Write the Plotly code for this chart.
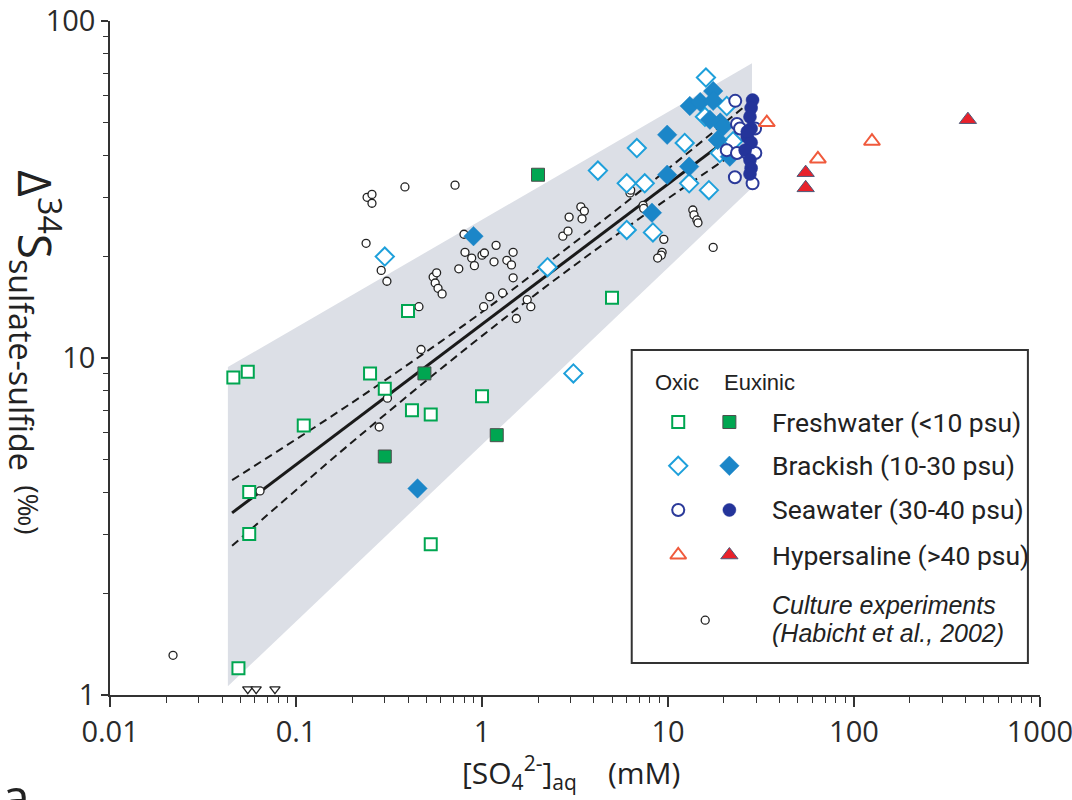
import plotly.graph_objects as go

# ---------------- data ----------------
x_ticks = [0.01, 0.1, 1, 10, 100, 1000]
x_tick_text = ["0.01", "0.1", "1", "10", "100", "1000"]
y_ticks = [1, 10, 100]
y_tick_text = ["1", "10", "100"]

band_x = [0.043, 0.043, 28.3, 28.3]
band_y = [1.06, 9.4, 75, 32]

fit_x = [0.0453, 25.9]
fit_y = [3.47, 48.8]

ci_x = [0.0453, 0.195, 0.862, 2.62, 8.0, 25.9]
ci_upper = [4.34, 7.30, 12.9, 20.4, 33.0, 55.9]
ci_lower = [2.77, 5.56, 10.9, 17.5, 27.3, 42.6]

culture_x = [0.241, 0.256, 0.256, 0.385, 0.716, 0.238, 0.287, 0.308, 0.80, 0.81,
             0.88, 1.0, 1.03, 0.91, 1.19, 1.16, 1.47, 1.36, 1.44, 1.47,
             0.75, 0.546, 0.57, 0.56, 0.58, 0.61, 0.458, 1.02, 1.10, 1.29,
             1.75, 1.83, 1.53, 0.47, 0.31, 0.28, 0.064, 0.0218, 2.72, 2.90,
             2.94, 3.40, 3.55, 3.45, 6.25, 6.3, 7.35, 7.4, 13.6, 13.8,
             14.3, 14.5, 17.5, 9.5, 9.3, 9.2, 8.8]
culture_y = [30.0, 30.6, 28.8, 32.2, 32.6, 21.9, 18.2, 16.9, 23.3, 20.6,
             19.8, 20.2, 20.5, 18.8, 21.6, 19.3, 20.6, 19.5, 18.9, 17.3,
             18.4, 17.4, 17.9, 16.7, 16.1, 15.5, 14.2, 14.2, 15.2, 15.6,
             14.9, 14.2, 13.1, 10.6, 7.6, 6.24, 4.03, 1.31, 23.0, 23.8,
             26.2, 28.1, 27.3, 25.9, 30.9, 31.5, 28.4, 27.8, 27.5, 26.6,
             25.7, 25.2, 21.3, 22.5, 20.6, 20.2, 19.8]

below_x = [0.055, 0.061, 0.077]
below_y = [1.04, 1.04, 1.04]

fresh_oxic_x = [0.046, 0.055, 0.056, 0.056, 0.049, 0.11, 0.25, 0.30, 0.40, 0.42, 0.53, 1.0, 0.53, 5.0]
fresh_oxic_y = [8.75, 9.1, 4.0, 3.0, 1.2, 6.3, 9.0, 8.1, 13.8, 7.0, 6.8, 7.7, 2.8, 15.1]

fresh_eux_x = [0.49, 1.2, 0.30, 2.0]
fresh_eux_y = [9.0, 5.9, 5.1, 35]

brack_oxic_x = [0.30, 2.25, 4.2, 6.0, 6.0, 3.1, 16, 6.8, 7.5, 12.3, 13, 16.6, 8.3, 15.8, 20.7, 19, 22.4]
brack_oxic_y = [20, 18.6, 36, 33, 24, 9.0, 68, 42, 33, 43.5, 33, 31.5, 23.6, 52, 56, 40.6, 44]

brack_eux_x = [0.9, 0.45, 9.9, 9.9, 13, 8.2, 13.1, 14.9, 17.5, 17.5, 16.8, 19.1, 18.5, 21.5, 19.8]
brack_eux_y = [23, 4.1, 46, 35, 37, 27, 56, 57.5, 62, 58, 51, 50, 44.4, 39.6, 48.7]

sea_oxic_x = [23, 23.5, 24.4, 29.4, 20.7, 23.5, 26.7, 29.5, 22.9, 28.5]
sea_oxic_y = [58, 49.5, 48, 48, 41.4, 40.6, 40.6, 40.6, 34.4, 33]

sea_eux_x = [28.5, 28, 27.6, 28, 26.7, 28, 26, 27.6, 28, 27.6, 26.7]
sea_eux_y = [58.3, 55.2, 52, 48, 45.3, 43.6, 41.4, 38.7, 36.6, 35.2, 47]

hyper_oxic_x = [34, 64, 125]
hyper_oxic_y = [50, 39, 44]
hyper_eux_x = [55, 55, 410]
hyper_eux_y = [35.5, 32, 51]

legend_rows = ["Freshwater (<10 psu)", "Brackish (10-30 psu)",
               "Seawater (30-40 psu)", "Hypersaline (>40 psu)"]

# ---------------- styles ----------------
GREEN = "#00a651"
LBLUE = "#1ea0db"
MBLUE = "#1b86c8"
NAVY = "#2b3a9a"
ORANGE = "#f05a3c"
RED = "#e8212b"
AX = "#333333"

fig = go.Figure()

fig.add_trace(go.Scatter(x=band_x, y=band_y, fill="toself", mode="lines",
                         line=dict(width=0), fillcolor="#dcdfe6",
                         hoverinfo="skip", showlegend=False))
fig.add_trace(go.Scatter(x=ci_x, y=ci_upper, mode="lines", line=dict(color="#1a1a1a", width=2, dash="8px,5px", shape="spline"), showlegend=False))
fig.add_trace(go.Scatter(x=ci_x, y=ci_lower, mode="lines", line=dict(color="#1a1a1a", width=2, dash="8px,5px", shape="spline"), showlegend=False))
fig.add_trace(go.Scatter(x=fit_x, y=fit_y, mode="lines", line=dict(color="#1a1a1a", width=3), showlegend=False))


def pts(x, y, symbol, size, fill, lcol, lw):
    fig.add_trace(go.Scatter(x=x, y=y, mode="markers", cliponaxis=False, showlegend=False,
                             marker=dict(symbol=symbol, size=size, color=fill,
                                         line=dict(color=lcol, width=lw))))


pts(culture_x, culture_y, "circle", 8, "white", "#222222", 1.3)
pts(below_x, below_y, "triangle-down", 9, "white", "#222222", 1.3)
pts(fresh_oxic_x, fresh_oxic_y, "square", 12, "white", GREEN, 2)
pts(fresh_eux_x, fresh_eux_y, "square", 13, GREEN, "#4d4d4d", 1)
pts(brack_oxic_x, brack_oxic_y, "diamond", 14, "white", LBLUE, 2)
pts(brack_eux_x, brack_eux_y, "diamond", 15, MBLUE, MBLUE, 0.5)
pts(sea_oxic_x, sea_oxic_y, "circle", 12, "white", NAVY, 2)
pts(sea_eux_x, sea_eux_y, "circle", 13, "#24349a", "#24349a", 0.5)
pts(hyper_oxic_x, hyper_oxic_y, "triangle-up", 14, "white", ORANGE, 2)
pts(hyper_eux_x, hyper_eux_y, "triangle-up", 15, RED, "#4b5a7a", 1)

# ---------------- custom legend (paper-fraction overlay axes) ----------------
leg_open_x = 0.611
leg_fill_x = 0.666
leg_rows_y = [0.405, 0.340, 0.2745, 0.2077]
leg_styles = [
    (("square", 12, "white", GREEN, 2), ("square", 13, GREEN, "#4d4d4d", 1)),
    (("diamond", 14, "white", LBLUE, 2), ("diamond", 15, MBLUE, MBLUE, 0.5)),
    (("circle", 12, "white", NAVY, 2), ("circle", 13, "#24349a", "#24349a", 0.5)),
    (("triangle-up", 14, "white", ORANGE, 2), ("triangle-up", 15, RED, "#4b5a7a", 1)),
]
for ry, (o, f) in zip(leg_rows_y, leg_styles):
    for xx, st in ((leg_open_x, o), (leg_fill_x, f)):
        fig.add_trace(go.Scatter(x=[xx], y=[ry], xaxis="x2", yaxis="y2", mode="markers",
                                 showlegend=False, cliponaxis=False,
                                 marker=dict(symbol=st[0], size=st[1], color=st[2],
                                             line=dict(color=st[3], width=st[4]))))
fig.add_trace(go.Scatter(x=[0.640], y=[0.111], xaxis="x2", yaxis="y2", mode="markers",
                         showlegend=False, cliponaxis=False,
                         marker=dict(symbol="circle", size=8, color="white",
                                     line=dict(color="#222222", width=1.3))))

fig.add_shape(type="rect", xref="paper", yref="paper", x0=0.561, x1=0.987, y0=0.0475, y1=0.512,
              line=dict(color="#333333", width=2), fillcolor="white", layer="below")

ann = []
ann.append(dict(x=0.584, y=0.463, text="Oxic", xanchor="left", yanchor="middle",
                font=dict(family="Liberation Sans, Arial", size=22, color="#222")))
ann.append(dict(x=0.658, y=0.463, text="Euxinic", xanchor="left", yanchor="middle",
                font=dict(family="Liberation Sans, Arial", size=22, color="#222")))
for ry, t in zip(leg_rows_y, legend_rows):
    ann.append(dict(x=0.7097, y=ry, text=t, xanchor="left", yanchor="middle",
                    font=dict(family="Roboto", size=26.5, color="#222")))
ann.append(dict(x=0.7097, y=0.134, text="<i>Culture experiments</i>", xanchor="left", yanchor="middle",
                font=dict(family="Liberation Sans, Arial", size=25, color="#222")))
ann.append(dict(x=0.7097, y=0.0915, text="<i>(Habicht et al., 2002)</i>", xanchor="left", yanchor="middle",
                font=dict(family="Liberation Sans, Arial", size=25, color="#222")))

# axis titles
ann.append(dict(x=-0.080, y=0.509, textangle=90, xanchor="center", yanchor="middle",
                text='Δ<sup>34</sup>S<sub>sulfate-sulfide</sub><span style="font-size:28px">&nbsp;&nbsp;(‰)</span>',
                font=dict(family="Open Sans", size=46, color="#222")))
ann.append(dict(x=0.496, y=-0.115, xanchor="center", yanchor="middle",
                text="[SO<sub>4</sub><sup>2-</sup>]<sub>aq</sub>&nbsp;&nbsp;&nbsp;&nbsp;(mM)",
                font=dict(family="Open Sans", size=30, color="#222")))
ann.append(dict(x=-0.118, y=-0.097, xanchor="left", yanchor="top", text="a",
                font=dict(family="Open Sans", size=50, color="#222")))
for a in ann:
    a.update(xref="paper", yref="paper", showarrow=False)

x_minor = [m * 10 ** e for e in range(-2, 3) for m in range(2, 10)]
y_minor = [m * 10 ** e for e in range(0, 2) for m in range(2, 10)]

tickfont = dict(family="Open Sans", size=29, color="#2a2a2a")
fig.update_layout(
    width=1072, height=800,
    margin=dict(l=110, r=32, t=21, b=105, autoexpand=False),
    paper_bgcolor="white", plot_bgcolor="white",
    showlegend=False,
    annotations=ann,
    xaxis=dict(type="log", range=[-2.0005, 3.0005], showline=True, linecolor=AX, linewidth=1.5,
               ticks="outside", ticklen=10, tickwidth=1.5, tickcolor=AX,
               tickmode="array", tickvals=x_ticks, ticktext=x_tick_text, tickfont=tickfont,
               ticklabeloverflow="allow", automargin=False,
               showgrid=False, zeroline=False,
               minor=dict(tickmode="array", tickvals=x_minor, ticks="outside", ticklen=6,
                          tickwidth=1.3, tickcolor=AX, showgrid=False)),
    yaxis=dict(type="log", range=[-0.0005, 2.0005], showline=True, linecolor=AX, linewidth=1.5,
               ticks="outside", ticklen=7, tickwidth=1.5, tickcolor=AX,
               tickmode="array", tickvals=y_ticks, ticktext=y_tick_text, tickfont=tickfont,
               ticklabeloverflow="allow", automargin=False,
               showgrid=False, zeroline=False,
               minor=dict(tickmode="array", tickvals=y_minor, ticks="outside", ticklen=5,
                          tickwidth=1.3, tickcolor=AX, showgrid=False)),
    xaxis2=dict(overlaying="x", range=[0, 1], visible=False, fixedrange=True),
    yaxis2=dict(overlaying="y", range=[0, 1], visible=False, fixedrange=True),
)

fig.write_html("out.html")
